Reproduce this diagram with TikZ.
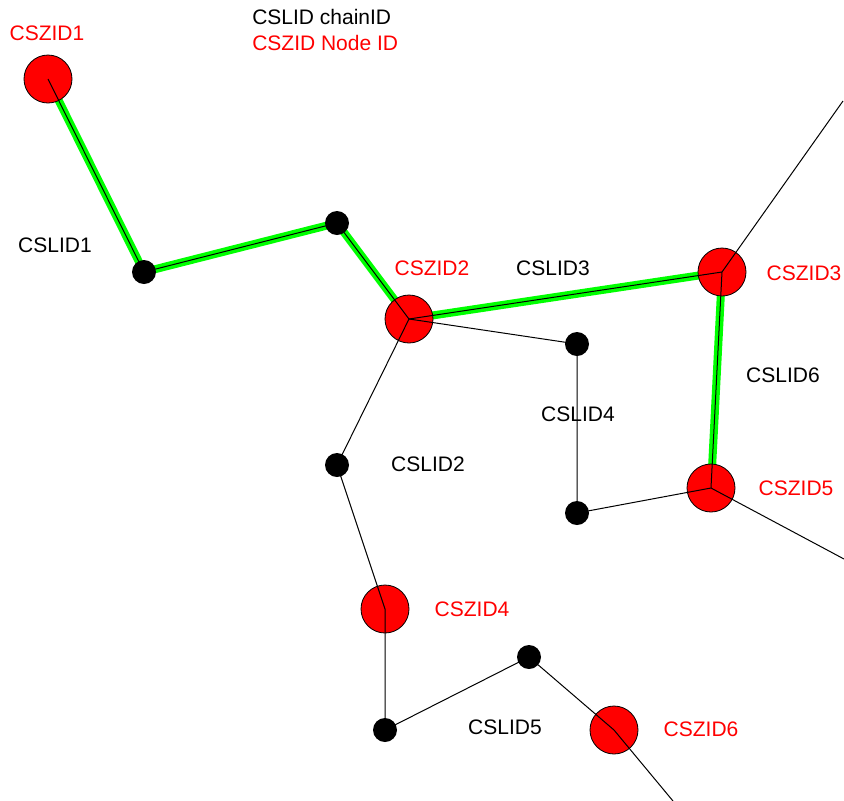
\documentclass[tikz,border=0pt]{standalone}
\usepackage{fontspec}
\setmainfont{Liberation Sans}
\usetikzlibrary{backgrounds}

\begin{document}
\begin{tikzpicture}[x=0.75pt,y=0.75pt,yscale=-1,xscale=1,
  zone/.style={circle,draw=black,line width=0.6pt,fill={rgb,255:red,255;green,0;blue,0},minimum size=36pt,inner sep=0pt},
  joint/.style={circle,fill=black,minimum size=18pt,inner sep=0pt},
  link/.style={line width=0.75pt,color=black},
  chain/.style={line width=6pt,color={rgb,255:red,0;green,255;blue,0}},
  zlabel/.style={inner sep=0pt,text={rgb,255:red,255;green,0;blue,0},font=\fontsize{15.75}{19}\selectfont},
  llabel/.style={inner sep=0pt,text=black,font=\fontsize{15.75}{19}\selectfont}]
\path[use as bounding box] (0,0) rectangle (844,801);

%Zone nodes
\node[zone] (CSZID1) at (48,79) {};
\node[zone] (CSZID2) at (409,319) {};
\node[zone] (CSZID3) at (722,272) {};
\node[zone] (CSZID4) at (385,609) {};
\node[zone] (CSZID5) at (711,488) {};
\node[zone] (CSZID6) at (614,730) {};
%Joints
\node[joint] (j1) at (144,272) {};
\node[joint] (j2) at (337,223) {};
\node[joint] (j3) at (337,465) {};
\node[joint] (j4) at (577,344) {};
\node[joint] (j5) at (577,513) {};
\node[joint] (j6) at (385,730) {};
\node[joint] (j7) at (529,657) {};
%Open ends
\coordinate (o3) at (843,101);
\coordinate (o5) at (844,559);
\coordinate (o6) at (673,801);

%Highlighted chain
\begin{pgfonlayer}{background}
\draw[chain] (CSZID1.center) -- (j1.center) -- (j2.center) -- (CSZID2.center) -- (CSZID3.center) -- (CSZID5.center);
\end{pgfonlayer}

%Straight Lines
\draw[link] (CSZID1.center) -- (j1.center) -- (j2.center) -- (CSZID2.center) -- (CSZID3.center) -- (CSZID5.center);
\draw[link] (CSZID2.center) -- (j4.center) -- (j5.center) -- (CSZID5.center);
\draw[link] (CSZID2.center) -- (j3.center) -- (CSZID4.center) -- (j6.center) -- (j7.center) -- (CSZID6.center) -- (o6);
\draw[link] (CSZID3.center) -- (o3);
\draw[link] (CSZID5.center) -- (o5);

% Text Node
\node[llabel,anchor=west] (legL) at (252,17) {CSLID chainID};
\node[zlabel,anchor=west] (legZ) at (252,43) {CSZID Node ID};
% Text Node
\node[zlabel] (tZ1) at (47,33) {CSZID1};
\node[zlabel] (tZ2) at (432,268) {CSZID2};
\node[zlabel] (tZ3) at (804,273) {CSZID3};
\node[zlabel] (tZ4) at (472,609) {CSZID4};
\node[zlabel] (tZ5) at (796,488) {CSZID5};
\node[zlabel] (tZ6) at (701,729) {CSZID6};
% Text Node
\node[llabel] (tL1) at (55,245) {CSLID1};
\node[llabel] (tL2) at (428,464) {CSLID2};
\node[llabel] (tL3) at (553,268) {CSLID3};
\node[llabel] (tL4) at (578,414) {CSLID4};
\node[llabel] (tL5) at (505,727) {CSLID5};
\node[llabel] (tL6) at (783,375) {CSLID6};

\end{tikzpicture}
\end{document}
